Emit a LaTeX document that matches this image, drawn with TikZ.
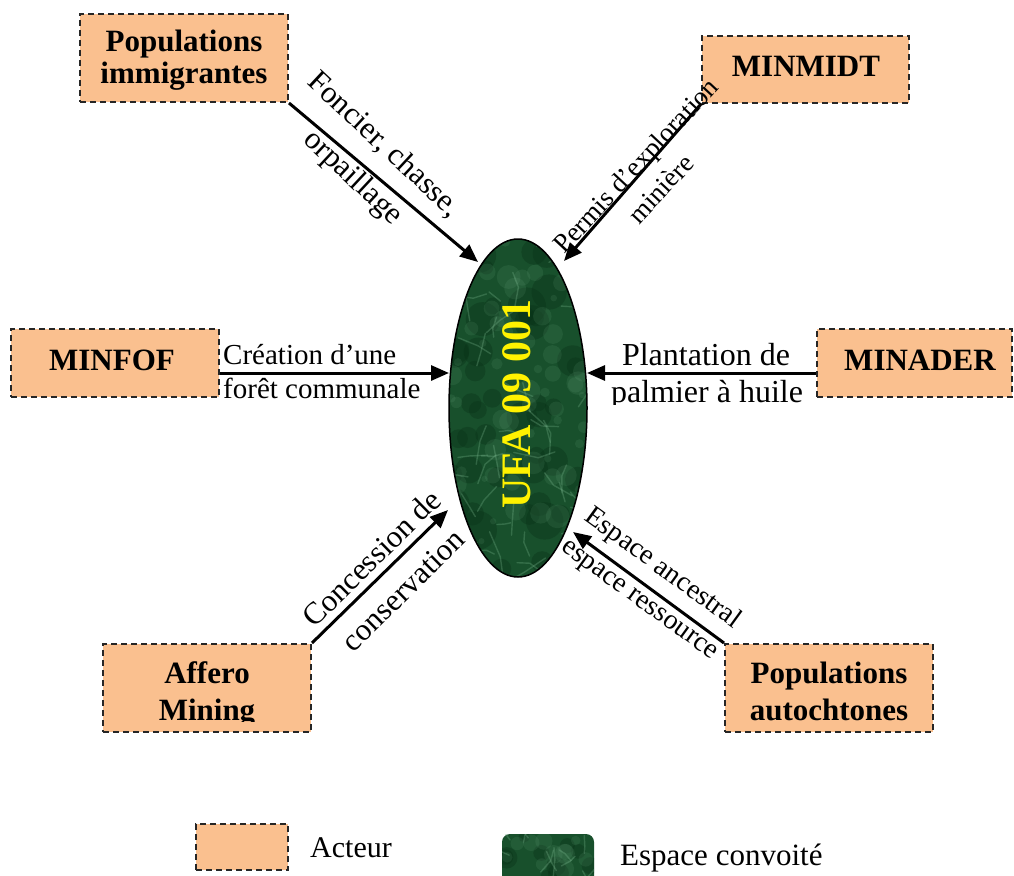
\documentclass[tikz,border=0pt]{standalone}
\usepackage{fontspec}
\setmainfont{Liberation Serif}
\usetikzlibrary{arrows.meta,shapes.geometric}
\definecolor{peach}{RGB}{250,192,143}
\definecolor{ufagreen}{RGB}{24,80,44}
\definecolor{ufalight}{RGB}{120,180,140}
\definecolor{ufadark}{RGB}{8,48,22}
\tikzset{
 actor/.style={draw=black!85, fill=peach, dash pattern=on 6pt off 4pt, line width=2pt, rectangle, inner sep=0pt},
 boxtext/.style={font=\fontsize{31}{33}\selectfont\bfseries, inner sep=0pt, anchor=base},
 lbl/.style={align=center, inner sep=0pt},
 arr/.style={line width=3pt, -{Triangle[length=18pt,width=15pt]}},
 vein/.style={ufalight, opacity=0.3, line width=1.4pt, line cap=round},
 cloud/.style={ufalight, opacity=0.12},
 blot/.style={ufadark, opacity=0.35},
}
\begin{document}
\begin{tikzpicture}[x=1pt,y=-1pt]
\useasboundingbox (0,0) rectangle (1014,875);

% ---------- central ellipse ----------
\node[ellipse, fill=ufagreen, minimum width=138pt, minimum height=338pt, inner sep=0pt] (ufa) at (518,408) {};
\begin{scope}
 \clip (518,408) ellipse [x radius=69, y radius=169];
 \pgfmathsetseed{11}
 \foreach \k in {1,...,50}{
  \pgfmathsetmacro\xa{450+rnd*140}
  \pgfmathsetmacro\ya{240+rnd*340}
  \pgfmathsetmacro\rr{6+rnd*14}
  \fill[blot] (\xa,\ya) circle (\rr);
 }
 \foreach \k in {1,...,60}{
  \pgfmathsetmacro\xa{450+rnd*140}
  \pgfmathsetmacro\ya{240+rnd*340}
  \pgfmathsetmacro\rr{3+rnd*9}
  \fill[cloud] (\xa,\ya) circle (\rr);
 }
 \foreach \k in {1,...,55}{
  \pgfmathsetmacro\xa{450+rnd*140}
  \pgfmathsetmacro\ya{240+rnd*340}
  \pgfmathsetmacro\an{rnd*360}
  \pgfmathsetmacro\bn{\an+rnd*70-35}
  \pgfmathsetmacro\ln{8+rnd*20}
  \draw[vein] (\xa,\ya) -- ++(\an:\ln) -- ++(\bn:\ln*0.7);
 }
\end{scope}
\draw[line width=1.5pt] (518,408) ellipse [x radius=69, y radius=169];
\node[rotate=90, text=yellow, font=\fontsize{42}{44}\selectfont\bfseries, inner sep=0pt] (ufalbl) at (517,404) {UFA 09 001};

% ---------- actor boxes ----------
\node[actor, minimum width=208pt, minimum height=88pt] (pim) at (184,58) {};
\node[boxtext] (pim1) at (184,52) {Populations};
\node[boxtext] (pim2) at (184,84) {immigrantes};

\node[actor, minimum width=207pt, minimum height=67pt] (minmidt) at (805.5,69.5) {};
\node[boxtext] (minmidt1) at (806,77) {MINMIDT};

\node[actor, minimum width=208pt, minimum height=68pt] (minfof) at (115,363) {};
\node[boxtext] (minfof1) at (112,370) {MINFOF};

\node[actor, minimum width=195pt, minimum height=68pt] (minader) at (914.5,363) {};
\node[boxtext] (minader1) at (920,370) {MINADER};

\node[actor, minimum width=208pt, minimum height=88pt] (affero) at (207,688) {};
\begin{scope}
 \clip (100,640) rectangle (314,721);
 \node[boxtext] (affero1) at (207,683) {Affero};
 \node[boxtext] (affero2) at (207,720) {Mining};
\end{scope}

\node[actor, minimum width=208pt, minimum height=88pt] (paut) at (829,688) {};
\node[boxtext] (paut1) at (829,683) {Populations};
\node[boxtext] (paut2) at (829,720) {autochtones};

% ---------- arrows ----------
\coordinate (t1) at (478,262);
\coordinate (t2) at (564,261);
\coordinate (t3) at (449,373);
\coordinate (t4) at (587,373);
\coordinate (t5) at (448,510);
\coordinate (t6) at (573,532);
\draw[arr] (pim.south east) -- (t1);
\draw[arr] (minmidt.south west) -- (t2);
\draw[arr] ([yshift=-10pt]minfof.east) -- (t3);
\draw[arr] ([yshift=-10pt]minader.west) -- (t4);
\draw[arr] (affero.north east) -- (t5);
\draw[arr] (paut.north west) -- (t6);

% ---------- arrow labels ----------
\node[lbl, rotate=-43, font=\fontsize{31}{45}\selectfont] (l1) at (368,162) {Foncier, chasse,\\orpaillage};
\node[lbl, rotate=47, font=\fontsize{27}{34}\selectfont] (l2) at (648,177) {Permis d’exploration\\minière};
\node[inner sep=0pt, anchor=base west, font=\fontsize{29}{34}\selectfont] (l3a) at (223,364) {Création d’une};
\node[inner sep=0pt, anchor=base west, font=\fontsize{29}{34}\selectfont] (l3b) at (223,398) {forêt communale};
\begin{scope}
 \clip (590,325) rectangle (816,404);
 \node[inner sep=0pt, anchor=base, font=\fontsize{32}{36}\selectfont] (l4a) at (706,365) {Plantation de};
 \node[inner sep=0pt, anchor=base, font=\fontsize{32}{36}\selectfont] (l4b) at (707,402) {palmier à huile};
\end{scope}
\node[lbl, rotate=44.5, font=\fontsize{31}{45}\selectfont] (l5) at (387,574) {Concession de\\conservation};
\node[lbl, rotate=-36, font=\fontsize{28}{38}\selectfont] (l6) at (651,584) {Espace ancestral\\espace ressource};

% ---------- legend ----------
\node[actor, minimum width=92pt, minimum height=46pt] (leg1) at (242,847) {};
\node[inner sep=0pt, anchor=base west, font=\fontsize{30}{32}\selectfont] (leg1t) at (310,857) {Acteur};
\node[fill=ufagreen, rounded corners=8pt, minimum width=92pt, minimum height=56pt, inner sep=0pt] (leg2) at (548,862) {};
\begin{scope}
 \clip (502,834) rectangle (594,875);
 \pgfmathsetseed{5}
 \foreach \k in {1,...,10}{
  \pgfmathsetmacro\xa{502+rnd*92}
  \pgfmathsetmacro\ya{834+rnd*45}
  \pgfmathsetmacro\rr{5+rnd*8}
  \fill[blot] (\xa,\ya) circle (\rr);
 }
 \foreach \k in {1,...,12}{
  \pgfmathsetmacro\xa{502+rnd*92}
  \pgfmathsetmacro\ya{834+rnd*45}
  \pgfmathsetmacro\rr{3+rnd*7}
  \fill[cloud] (\xa,\ya) circle (\rr);
 }
 \foreach \k in {1,...,12}{
  \pgfmathsetmacro\xa{502+rnd*92}
  \pgfmathsetmacro\ya{834+rnd*45}
  \pgfmathsetmacro\an{rnd*360}
  \pgfmathsetmacro\bn{\an+rnd*70-35}
  \pgfmathsetmacro\ln{6+rnd*14}
  \draw[vein] (\xa,\ya) -- ++(\an:\ln) -- ++(\bn:\ln*0.7);
 }
\end{scope}
\node[inner sep=0pt, anchor=base west, font=\fontsize{31}{33}\selectfont] (leg2t) at (620,865) {Espace convoité};
\end{tikzpicture}
\end{document}
